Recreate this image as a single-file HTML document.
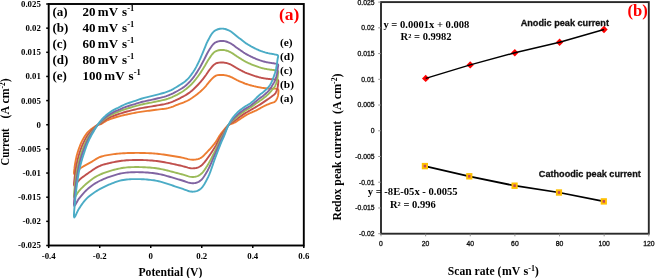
<!DOCTYPE html>
<html><head><meta charset="utf-8"><style>
html,body{margin:0;padding:0;background:#fff;}
body{width:655px;height:278px;overflow:hidden;font-family:"Liberation Serif", serif;}
svg{display:block;will-change:transform;}
</style></head><body>
<svg width="655" height="278" viewBox="0 0 655 278">
<rect width="655" height="278" fill="#fff"/>
<path d="M74.30,174.00 L74.01,173.38 L73.98,172.67 L74.02,171.95 L74.09,171.24 L74.18,170.54 L74.27,169.83 L74.37,169.12 L74.46,168.42 L74.53,167.71 L74.60,167.00 L74.69,166.29 L74.79,165.58 L74.90,164.88 L75.02,164.18 L75.14,163.47 L75.26,162.77 L75.39,162.07 L75.52,161.37 L75.65,160.67 L75.78,159.97 L75.92,159.27 L76.06,158.57 L76.21,157.87 L76.36,157.17 L76.52,156.48 L76.69,155.79 L76.87,155.10 L77.06,154.41 L77.26,153.72 L77.46,153.04 L77.66,152.36 L77.87,151.68 L78.09,151.00 L78.31,150.32 L78.54,149.65 L78.78,148.97 L79.02,148.30 L79.26,147.63 L79.51,146.96 L79.77,146.30 L80.03,145.63 L80.29,144.97 L80.56,144.31 L80.83,143.65 L81.12,143.00 L81.41,142.35 L81.72,141.71 L82.03,141.07 L82.36,140.43 L82.71,139.81 L83.05,139.19 L83.40,138.56 L83.75,137.94 L84.11,137.33 L84.48,136.72 L84.85,136.11 L85.24,135.51 L85.64,134.92 L86.05,134.34 L86.48,133.77 L86.92,133.21 L87.39,132.67 L87.87,132.14 L88.36,131.63 L88.88,131.14 L89.41,130.66 L89.95,130.19 L90.50,129.74 L91.05,129.29 L91.61,128.85 L92.18,128.43 L92.76,128.00 L93.34,127.59 L93.93,127.19 L94.52,126.79 L95.12,126.41 L95.73,126.03 L96.34,125.67 L96.97,125.32 L97.60,125.00 L99.26,124.51 L100.94,124.08 L102.46,123.26 L103.92,122.31 L105.38,121.36 L106.89,120.51 L108.47,119.79 L110.09,119.15 L111.72,118.57 L113.37,118.01 L115.02,117.48 L116.69,116.98 L118.36,116.52 L120.04,116.08 L121.73,115.67 L123.42,115.29 L125.12,114.91 L126.81,114.52 L128.51,114.15 L130.21,113.78 L131.91,113.42 L133.61,113.07 L135.32,112.74 L137.03,112.43 L138.74,112.15 L140.46,111.88 L142.17,111.62 L143.89,111.37 L145.61,111.14 L147.34,110.91 L149.06,110.69 L150.78,110.47 L152.51,110.25 L154.23,110.03 L155.95,109.79 L157.67,109.57 L159.40,109.37 L161.13,109.17 L162.85,108.96 L164.57,108.73 L166.29,108.46 L167.99,108.12 L169.68,107.69 L171.33,107.17 L172.96,106.56 L174.57,105.91 L176.17,105.24 L177.78,104.59 L179.41,103.97 L181.04,103.37 L182.67,102.77 L184.29,102.15 L185.89,101.48 L187.47,100.74 L188.99,99.91 L190.48,99.02 L191.94,98.07 L193.37,97.08 L194.78,96.07 L196.16,95.02 L197.53,93.95 L198.88,92.85 L200.20,91.72 L201.48,90.55 L202.73,89.35 L203.95,88.11 L205.14,86.84 L206.28,85.53 L207.36,84.17 L208.43,82.80 L209.56,81.48 L210.74,80.21 L211.92,78.93 L213.13,77.69 L214.45,76.56 L215.95,75.68 L217.60,75.17 L219.33,74.96 L221.06,74.93 L222.80,75.00 L223.52,75.05 L224.24,75.12 L224.96,75.22 L225.68,75.34 L226.39,75.49 L227.09,75.65 L227.79,75.83 L228.49,76.04 L229.18,76.26 L229.86,76.49 L230.54,76.76 L231.20,77.05 L231.85,77.37 L232.50,77.70 L233.14,78.04 L233.77,78.38 L234.41,78.73 L235.04,79.08 L235.68,79.43 L236.32,79.77 L236.96,80.10 L237.61,80.41 L238.27,80.72 L238.93,81.01 L239.60,81.31 L240.26,81.60 L240.92,81.89 L241.59,82.17 L242.26,82.45 L242.93,82.73 L243.60,83.00 L244.27,83.26 L244.95,83.52 L245.63,83.77 L246.32,84.01 L247.00,84.24 L247.69,84.46 L248.38,84.68 L249.08,84.88 L249.77,85.08 L250.47,85.27 L251.17,85.46 L251.87,85.64 L252.58,85.82 L253.28,85.99 L253.98,86.17 L254.69,86.33 L255.39,86.50 L256.10,86.66 L256.81,86.82 L257.51,86.97 L258.22,87.12 L258.93,87.26 L259.65,87.40 L260.36,87.53 L261.07,87.65 L261.79,87.77 L262.50,87.87 L263.22,87.97 L263.94,88.06 L264.66,88.14 L265.38,88.21 L266.10,88.28 L266.83,88.34 L267.55,88.39 L268.27,88.45 L268.99,88.50 L269.72,88.54 L270.44,88.59 L271.16,88.63 L271.89,88.64 L272.61,88.64 L273.34,88.64 L274.06,88.63 L274.78,88.63 L275.51,88.66 L276.23,88.72 L276.94,88.86 L277.63,89.06 L278.20,89.50 L278.44,90.27 L278.45,91.09 L278.41,91.91 L278.36,92.72 L278.29,93.54 L278.19,94.35 L278.06,95.15 L277.89,95.96 L277.68,96.75 L277.42,97.52 L277.12,98.28 L276.78,99.03 L276.41,99.75 L275.98,100.45 L275.49,101.10 L274.91,101.67 L274.21,102.10 L273.45,102.39 L272.67,102.62 L271.88,102.86 L271.12,103.15 L270.36,103.44 L269.59,103.73 L268.83,104.03 L268.07,104.32 L267.31,104.62 L266.55,104.94 L265.80,105.27 L265.06,105.61 L264.33,105.98 L263.61,106.35 L262.89,106.74 L262.17,107.14 L261.46,107.54 L260.75,107.94 L260.04,108.35 L259.32,108.75 L258.61,109.14 L257.89,109.53 L257.17,109.91 L256.44,110.28 L255.70,110.63 L254.95,110.97 L254.21,111.30 L253.46,111.63 L252.70,111.95 L251.95,112.27 L251.20,112.59 L250.45,112.92 L249.71,113.26 L248.97,113.61 L248.24,113.98 L247.52,114.36 L246.80,114.76 L246.10,115.17 L245.40,115.59 L244.70,116.02 L244.01,116.46 L243.32,116.90 L242.63,117.34 L241.95,117.79 L241.26,118.23 L240.58,118.68 L239.90,119.14 L239.23,119.61 L238.57,120.09 L237.91,120.57 L237.24,121.04 L236.56,121.49 L235.86,121.92 L235.15,122.33 L234.42,122.68 L233.66,122.99 L232.89,123.27 L232.12,123.54 L231.35,123.80 L230.58,124.08 L229.82,124.40 L229.09,124.77 L228.40,125.20 L227.89,125.59 L227.40,126.01 L226.93,126.45 L226.48,126.91 L226.05,127.39 L225.63,127.88 L225.22,128.38 L224.82,128.88 L224.41,129.38 L224.01,129.88 L223.60,130.38 L223.19,130.87 L222.78,131.37 L222.37,131.87 L221.97,132.37 L221.57,132.88 L221.18,133.39 L220.79,133.90 L220.42,134.43 L220.04,134.95 L219.68,135.48 L219.32,136.02 L218.99,136.57 L218.66,137.12 L218.33,137.68 L218.01,138.24 L217.69,138.79 L217.37,139.35 L217.05,139.91 L216.72,140.46 L216.38,141.01 L216.03,141.55 L215.67,142.08 L215.29,142.61 L214.91,143.12 L214.52,143.64 L214.12,144.14 L213.72,144.65 L213.32,145.15 L212.91,145.65 L212.49,146.14 L212.07,146.63 L211.65,147.12 L211.23,147.60 L210.80,148.08 L210.37,148.56 L209.94,149.04 L209.50,149.51 L209.06,149.98 L208.62,150.45 L208.17,150.91 L207.72,151.37 L207.28,151.84 L206.83,152.31 L206.39,152.78 L205.95,153.25 L205.51,153.72 L205.07,154.18 L204.62,154.65 L204.17,155.11 L203.71,155.56 L203.24,156.00 L202.76,156.43 L202.27,156.84 L201.76,157.23 L201.23,157.60 L200.68,157.94 L200.11,158.24 L199.53,158.51 L198.93,158.75 L198.32,158.97 L197.71,159.15 L197.08,159.30 L196.45,159.42 L195.81,159.52 L195.17,159.59 L194.53,159.64 L193.89,159.68 L193.24,159.69 L192.60,159.70 L191.05,159.61 L189.51,159.38 L187.98,159.06 L186.47,158.69 L184.96,158.30 L183.45,157.93 L181.93,157.58 L180.40,157.27 L178.86,157.01 L177.33,156.74 L175.79,156.48 L174.26,156.22 L172.72,155.96 L171.18,155.71 L169.64,155.47 L168.11,155.23 L166.56,155.00 L165.02,154.77 L163.48,154.56 L161.94,154.35 L160.39,154.16 L158.84,153.98 L157.29,153.81 L155.74,153.67 L154.19,153.54 L152.64,153.42 L151.08,153.32 L149.53,153.23 L147.97,153.16 L146.41,153.09 L144.86,153.04 L143.30,153.00 L141.74,152.96 L140.18,152.94 L138.63,152.92 L137.07,152.91 L135.51,152.92 L133.95,152.93 L132.39,152.95 L130.84,152.97 L129.28,153.01 L127.72,153.06 L126.16,153.12 L124.61,153.19 L123.05,153.27 L121.50,153.37 L119.94,153.49 L118.39,153.63 L116.84,153.78 L115.29,153.96 L113.75,154.17 L112.21,154.38 L110.66,154.60 L109.12,154.83 L107.59,155.08 L106.05,155.36 L104.53,155.68 L103.01,156.05 L101.52,156.48 L100.04,156.98 L98.61,157.59 L97.23,158.31 L95.88,159.10 L94.57,159.94 L93.27,160.79 L91.95,161.63 L90.61,162.42 L89.25,163.18 L87.89,163.93 L86.51,164.67 L85.15,165.41 L83.79,166.18 L82.45,166.97 L81.13,167.80 L79.86,168.71 L78.71,169.75 L77.65,170.89 L76.62,172.06 L75.58,173.22 Z" fill="none" stroke="#ED7D31" stroke-width="1.9" stroke-linejoin="round"/>
<path d="M74.30,185.75 L74.00,184.99 L73.98,184.14 L74.01,183.29 L74.08,182.45 L74.17,181.61 L74.26,180.76 L74.36,179.92 L74.45,179.08 L74.54,178.24 L74.62,177.40 L74.72,176.55 L74.83,175.71 L74.94,174.87 L75.05,174.04 L75.16,173.20 L75.28,172.36 L75.41,171.52 L75.53,170.68 L75.66,169.85 L75.79,169.01 L75.93,168.18 L76.07,167.34 L76.22,166.51 L76.38,165.68 L76.54,164.85 L76.70,164.02 L76.88,163.19 L77.06,162.36 L77.25,161.54 L77.44,160.71 L77.63,159.89 L77.83,159.07 L78.04,158.25 L78.25,157.44 L78.47,156.62 L78.69,155.81 L78.93,154.99 L79.17,154.19 L79.41,153.38 L79.67,152.57 L79.93,151.77 L80.20,150.97 L80.47,150.17 L80.75,149.37 L81.04,148.58 L81.34,147.79 L81.65,147.00 L81.97,146.22 L82.31,145.45 L82.65,144.68 L83.00,143.91 L83.35,143.15 L83.71,142.38 L84.07,141.62 L84.44,140.86 L84.82,140.11 L85.21,139.37 L85.61,138.63 L86.02,137.89 L86.44,137.17 L86.88,136.46 L87.34,135.76 L87.82,135.07 L88.31,134.40 L88.82,133.74 L89.34,133.09 L89.88,132.46 L90.42,131.84 L90.98,131.22 L91.55,130.61 L92.12,130.02 L92.70,129.42 L93.29,128.84 L93.89,128.26 L94.49,127.69 L95.09,127.13 L95.71,126.58 L96.33,126.04 L96.96,125.51 L97.60,125.00 L99.12,124.18 L100.68,123.41 L102.16,122.38 L103.61,121.28 L105.07,120.19 L106.58,119.18 L108.17,118.29 L109.79,117.48 L111.44,116.73 L113.11,116.01 L114.81,115.35 L116.54,114.76 L118.27,114.18 L120.00,113.61 L121.73,113.05 L123.47,112.51 L125.22,112.01 L126.99,111.53 L128.76,111.07 L130.53,110.62 L132.30,110.19 L134.08,109.75 L135.85,109.33 L137.63,108.91 L139.42,108.53 L141.21,108.17 L143.01,107.83 L144.81,107.52 L146.61,107.22 L148.42,106.92 L150.22,106.63 L152.02,106.33 L153.83,106.03 L155.63,105.72 L157.43,105.40 L159.23,105.09 L161.02,104.78 L162.82,104.45 L164.60,104.09 L166.36,103.68 L168.11,103.22 L169.84,102.69 L171.55,102.09 L173.24,101.41 L174.91,100.68 L176.56,99.90 L178.20,99.09 L179.82,98.28 L181.42,97.45 L183.01,96.61 L184.56,95.75 L186.09,94.85 L187.59,93.90 L189.06,92.90 L190.48,91.82 L191.85,90.68 L193.18,89.50 L194.48,88.28 L195.76,87.03 L197.01,85.76 L198.24,84.47 L199.45,83.15 L200.63,81.81 L201.79,80.44 L202.92,79.04 L204.03,77.61 L205.10,76.17 L206.14,74.68 L207.14,73.17 L208.17,71.67 L209.25,70.20 L210.38,68.78 L211.51,67.35 L212.69,65.97 L213.99,64.69 L215.48,63.66 L217.16,62.98 L218.94,62.62 L220.76,62.47 L222.58,62.47 L223.32,62.51 L224.06,62.59 L224.80,62.70 L225.53,62.84 L226.25,63.00 L226.97,63.19 L227.68,63.40 L228.38,63.63 L229.08,63.88 L229.77,64.15 L230.45,64.44 L231.12,64.77 L231.77,65.11 L232.42,65.48 L233.05,65.85 L233.69,66.24 L234.31,66.63 L234.94,67.02 L235.57,67.41 L236.20,67.80 L236.83,68.17 L237.48,68.54 L238.12,68.89 L238.77,69.24 L239.43,69.59 L240.08,69.93 L240.73,70.27 L241.38,70.61 L242.04,70.95 L242.69,71.29 L243.35,71.62 L244.01,71.94 L244.68,72.26 L245.35,72.56 L246.02,72.86 L246.69,73.16 L247.38,73.44 L248.06,73.71 L248.75,73.97 L249.44,74.23 L250.13,74.48 L250.83,74.72 L251.53,74.96 L252.22,75.19 L252.92,75.42 L253.63,75.65 L254.33,75.87 L255.03,76.09 L255.74,76.30 L256.45,76.51 L257.16,76.72 L257.87,76.92 L258.58,77.11 L259.29,77.30 L260.01,77.48 L260.73,77.65 L261.45,77.81 L262.17,77.96 L262.90,78.10 L263.62,78.23 L264.35,78.36 L265.08,78.47 L265.81,78.58 L266.55,78.69 L267.28,78.78 L268.01,78.88 L268.75,78.96 L269.48,79.04 L270.22,79.12 L270.96,79.18 L271.70,79.23 L272.44,79.26 L273.18,79.30 L273.92,79.33 L274.65,79.38 L275.39,79.44 L276.13,79.52 L276.86,79.66 L277.57,79.87 L278.15,80.32 L278.36,81.18 L278.30,82.07 L278.20,82.96 L278.13,83.85 L278.04,84.75 L277.92,85.64 L277.79,86.52 L277.62,87.41 L277.42,88.28 L277.17,89.14 L276.89,89.99 L276.59,90.83 L276.25,91.66 L275.87,92.46 L275.43,93.23 L274.92,93.94 L274.33,94.54 L273.68,95.04 L273.00,95.49 L272.33,95.95 L271.67,96.44 L271.01,96.94 L270.33,97.43 L269.66,97.92 L268.97,98.41 L268.28,98.90 L267.58,99.39 L266.88,99.89 L266.16,100.38 L265.43,100.88 L264.70,101.38 L263.97,101.88 L263.23,102.38 L262.49,102.88 L261.75,103.38 L261.00,103.87 L260.25,104.36 L259.48,104.83 L258.72,105.29 L257.95,105.76 L257.19,106.22 L256.43,106.68 L255.66,107.13 L254.90,107.58 L254.14,108.03 L253.37,108.47 L252.60,108.92 L251.84,109.36 L251.07,109.80 L250.29,110.25 L249.52,110.69 L248.74,111.14 L247.97,111.59 L247.19,112.03 L246.41,112.48 L245.64,112.94 L244.87,113.41 L244.11,113.90 L243.37,114.39 L242.62,114.89 L241.88,115.40 L241.14,115.90 L240.40,116.42 L239.68,116.95 L238.96,117.50 L238.26,118.05 L237.56,118.61 L236.86,119.17 L236.16,119.73 L235.46,120.27 L234.74,120.79 L234.02,121.29 L233.29,121.76 L232.56,122.21 L231.83,122.66 L231.11,123.11 L230.40,123.58 L229.71,124.08 L229.04,124.61 L228.40,125.20 L227.91,125.72 L227.45,126.27 L227.01,126.84 L226.59,127.43 L226.17,128.02 L225.77,128.63 L225.38,129.24 L224.99,129.85 L224.61,130.46 L224.22,131.08 L223.82,131.69 L223.42,132.29 L223.01,132.90 L222.61,133.50 L222.20,134.11 L221.80,134.72 L221.41,135.33 L221.02,135.95 L220.64,136.58 L220.27,137.21 L219.90,137.84 L219.54,138.48 L219.20,139.12 L218.86,139.77 L218.53,140.43 L218.20,141.08 L217.87,141.74 L217.54,142.39 L217.21,143.04 L216.87,143.70 L216.53,144.34 L216.18,144.99 L215.83,145.62 L215.46,146.25 L215.08,146.88 L214.71,147.50 L214.32,148.12 L213.94,148.73 L213.56,149.35 L213.17,149.96 L212.78,150.57 L212.39,151.18 L212.00,151.79 L211.60,152.39 L211.20,152.99 L210.80,153.59 L210.40,154.19 L209.99,154.78 L209.58,155.38 L209.17,155.97 L208.75,156.56 L208.33,157.14 L207.91,157.72 L207.48,158.31 L207.06,158.90 L206.63,159.48 L206.19,160.07 L205.75,160.64 L205.31,161.22 L204.85,161.79 L204.40,162.35 L203.93,162.91 L203.45,163.45 L202.96,163.98 L202.45,164.50 L201.93,164.99 L201.38,165.46 L200.81,165.90 L200.22,166.30 L199.61,166.67 L198.97,167.01 L198.31,167.31 L197.64,167.57 L196.94,167.78 L196.24,167.96 L195.52,168.11 L194.80,168.21 L194.07,168.28 L193.33,168.32 L192.60,168.34 L191.01,168.24 L189.44,167.97 L187.89,167.61 L186.35,167.18 L184.82,166.74 L183.29,166.31 L181.75,165.90 L180.20,165.54 L178.64,165.21 L177.09,164.87 L175.53,164.53 L173.98,164.19 L172.43,163.86 L170.87,163.52 L169.32,163.19 L167.76,162.87 L166.20,162.57 L164.64,162.27 L163.07,161.98 L161.50,161.72 L159.93,161.47 L158.35,161.24 L156.77,161.04 L155.19,160.86 L153.60,160.70 L152.01,160.56 L150.42,160.44 L148.83,160.34 L147.24,160.25 L145.65,160.17 L144.05,160.11 L142.46,160.06 L140.87,160.02 L139.27,160.00 L137.68,159.99 L136.08,159.99 L134.49,160.01 L132.89,160.04 L131.30,160.08 L129.71,160.14 L128.12,160.22 L126.53,160.32 L124.94,160.45 L123.36,160.61 L121.79,160.79 L120.21,161.00 L118.65,161.24 L117.09,161.50 L115.53,161.79 L113.98,162.08 L112.42,162.40 L110.88,162.74 L109.34,163.09 L107.80,163.46 L106.27,163.84 L104.74,164.26 L103.23,164.71 L101.73,165.21 L100.24,165.76 L98.78,166.38 L97.35,167.07 L95.97,167.85 L94.62,168.70 L93.30,169.59 L92.00,170.51 L90.70,171.43 L89.40,172.33 L88.10,173.22 L86.81,174.12 L85.53,175.02 L84.26,175.94 L83.01,176.87 L81.78,177.83 L80.57,178.82 L79.41,179.87 L78.35,181.04 L77.39,182.29 L76.45,183.56 L75.50,184.82 Z" fill="none" stroke="#C0504D" stroke-width="1.9" stroke-linejoin="round"/>
<path d="M74.30,197.49 L73.99,196.59 L73.97,195.61 L74.01,194.63 L74.07,193.65 L74.16,192.68 L74.25,191.70 L74.35,190.72 L74.45,189.75 L74.55,188.77 L74.64,187.79 L74.75,186.82 L74.86,185.84 L74.97,184.87 L75.08,183.89 L75.19,182.92 L75.31,181.95 L75.43,180.97 L75.55,180.00 L75.68,179.03 L75.81,178.06 L75.95,177.09 L76.09,176.11 L76.24,175.15 L76.39,174.18 L76.55,173.21 L76.71,172.24 L76.88,171.28 L77.06,170.31 L77.24,169.35 L77.42,168.39 L77.60,167.43 L77.79,166.47 L77.99,165.51 L78.19,164.55 L78.40,163.60 L78.61,162.64 L78.84,161.69 L79.07,160.74 L79.32,159.79 L79.57,158.85 L79.83,157.90 L80.10,156.96 L80.38,156.02 L80.67,155.09 L80.97,154.15 L81.27,153.23 L81.59,152.30 L81.91,151.38 L82.25,150.46 L82.60,149.55 L82.95,148.64 L83.31,147.73 L83.67,146.82 L84.04,145.91 L84.41,145.01 L84.79,144.11 L85.18,143.22 L85.57,142.33 L85.98,141.45 L86.41,140.57 L86.84,139.70 L87.30,138.85 L87.76,138.00 L88.25,137.16 L88.75,136.34 L89.27,135.53 L89.81,134.73 L90.35,133.93 L90.91,133.15 L91.48,132.37 L92.06,131.61 L92.65,130.84 L93.24,130.09 L93.85,129.34 L94.45,128.60 L95.07,127.86 L95.69,127.13 L96.32,126.41 L96.95,125.70 L97.60,125.00 L98.99,123.84 L100.43,122.74 L101.86,121.50 L103.29,120.24 L104.76,119.01 L106.28,117.85 L107.86,116.79 L109.49,115.80 L111.16,114.88 L112.86,114.02 L114.61,113.23 L116.39,112.53 L118.19,111.85 L119.96,111.14 L121.73,110.42 L123.51,109.73 L125.32,109.11 L127.16,108.54 L129.00,108.00 L130.85,107.47 L132.70,106.95 L134.55,106.43 L136.39,105.91 L138.24,105.39 L140.09,104.91 L141.96,104.45 L143.84,104.04 L145.72,103.66 L147.61,103.30 L149.49,102.94 L151.38,102.57 L153.26,102.19 L155.14,101.80 L157.02,101.41 L158.90,101.01 L160.78,100.61 L162.65,100.19 L164.51,99.73 L166.34,99.22 L168.16,98.64 L169.94,97.99 L171.70,97.27 L173.43,96.49 L175.15,95.65 L176.86,94.79 L178.55,93.89 L180.22,92.95 L181.85,91.97 L183.44,90.94 L184.97,89.85 L186.46,88.73 L187.89,87.55 L189.29,86.33 L190.65,85.06 L191.96,83.73 L193.21,82.35 L194.42,80.93 L195.59,79.47 L196.73,78.00 L197.86,76.50 L198.95,74.98 L200.02,73.45 L201.07,71.89 L202.09,70.32 L203.11,68.73 L204.10,67.12 L205.07,65.49 L206.00,63.84 L206.93,62.18 L207.90,60.53 L208.94,58.93 L210.02,57.35 L211.10,55.78 L212.25,54.25 L213.53,52.83 L215.01,51.63 L216.72,50.80 L218.56,50.28 L220.45,50.01 L222.37,49.94 L223.13,49.98 L223.88,50.06 L224.63,50.18 L225.38,50.33 L226.11,50.51 L226.84,50.73 L227.56,50.97 L228.28,51.23 L228.98,51.50 L229.68,51.80 L230.37,52.12 L231.04,52.48 L231.69,52.86 L232.34,53.26 L232.97,53.67 L233.60,54.10 L234.22,54.53 L234.84,54.96 L235.46,55.39 L236.08,55.82 L236.71,56.25 L237.34,56.67 L237.97,57.07 L238.61,57.47 L239.26,57.86 L239.90,58.26 L240.54,58.66 L241.18,59.06 L241.82,59.45 L242.46,59.84 L243.11,60.23 L243.75,60.62 L244.40,60.99 L245.06,61.36 L245.72,61.72 L246.39,62.07 L247.06,62.41 L247.74,62.74 L248.42,63.06 L249.10,63.37 L249.79,63.68 L250.48,63.98 L251.18,64.27 L251.87,64.56 L252.57,64.85 L253.27,65.13 L253.97,65.41 L254.67,65.68 L255.38,65.95 L256.09,66.21 L256.80,66.47 L257.51,66.72 L258.22,66.96 L258.94,67.20 L259.66,67.42 L260.38,67.64 L261.11,67.85 L261.84,68.05 L262.57,68.23 L263.31,68.41 L264.04,68.58 L264.78,68.74 L265.52,68.89 L266.27,69.03 L267.01,69.17 L267.76,69.31 L268.50,69.43 L269.25,69.54 L270.00,69.64 L270.76,69.74 L271.51,69.81 L272.27,69.88 L273.02,69.95 L273.77,70.03 L274.52,70.12 L275.27,70.22 L276.02,70.32 L276.77,70.47 L277.50,70.68 L278.09,71.14 L278.28,72.08 L278.15,73.04 L277.99,74.01 L277.89,74.98 L277.78,75.95 L277.66,76.93 L277.52,77.90 L277.35,78.86 L277.16,79.82 L276.92,80.77 L276.67,81.71 L276.39,82.64 L276.09,83.57 L275.75,84.47 L275.37,85.36 L274.94,86.20 L274.44,86.97 L273.90,87.68 L273.34,88.35 L272.78,89.03 L272.22,89.73 L271.65,90.43 L271.08,91.13 L270.48,91.81 L269.88,92.50 L269.26,93.17 L268.62,93.85 L267.95,94.51 L267.25,95.15 L266.54,95.79 L265.80,96.41 L265.05,97.02 L264.29,97.62 L263.52,98.22 L262.75,98.82 L261.97,99.40 L261.17,99.96 L260.36,100.51 L259.55,101.05 L258.74,101.60 L257.94,102.16 L257.16,102.72 L256.37,103.29 L255.60,103.86 L254.82,104.43 L254.04,105.00 L253.26,105.57 L252.47,106.13 L251.68,106.69 L250.88,107.24 L250.07,107.78 L249.25,108.30 L248.41,108.81 L247.57,109.30 L246.72,109.79 L245.88,110.29 L245.04,110.80 L244.22,111.33 L243.41,111.88 L242.60,112.44 L241.80,113.00 L241.01,113.58 L240.22,114.16 L239.45,114.76 L238.70,115.38 L237.95,116.01 L237.22,116.66 L236.49,117.31 L235.77,117.96 L235.05,118.61 L234.34,119.26 L233.62,119.90 L232.92,120.52 L232.22,121.15 L231.54,121.78 L230.87,122.42 L230.22,123.07 L229.59,123.75 L228.98,124.46 L228.40,125.20 L227.94,125.86 L227.51,126.54 L227.09,127.23 L226.69,127.94 L226.30,128.65 L225.92,129.37 L225.54,130.09 L225.17,130.82 L224.80,131.55 L224.43,132.27 L224.04,133.00 L223.65,133.71 L223.25,134.43 L222.85,135.14 L222.44,135.85 L222.04,136.56 L221.64,137.28 L221.24,138.00 L220.86,138.73 L220.49,139.46 L220.12,140.20 L219.76,140.94 L219.41,141.68 L219.07,142.43 L218.72,143.18 L218.39,143.93 L218.05,144.68 L217.71,145.43 L217.37,146.18 L217.03,146.93 L216.69,147.68 L216.34,148.42 L215.99,149.16 L215.63,149.90 L215.26,150.63 L214.89,151.36 L214.52,152.09 L214.16,152.82 L213.80,153.55 L213.43,154.28 L213.07,155.00 L212.71,155.73 L212.34,156.46 L211.97,157.18 L211.61,157.90 L211.24,158.62 L210.86,159.34 L210.49,160.06 L210.11,160.78 L209.72,161.49 L209.33,162.20 L208.94,162.91 L208.54,163.61 L208.13,164.32 L207.72,165.02 L207.30,165.72 L206.87,166.41 L206.43,167.10 L205.99,167.79 L205.54,168.47 L205.08,169.15 L204.62,169.82 L204.14,170.48 L203.65,171.13 L203.15,171.77 L202.63,172.39 L202.08,172.98 L201.51,173.55 L200.91,174.09 L200.28,174.59 L199.62,175.06 L198.92,175.47 L198.19,175.84 L197.44,176.15 L196.67,176.41 L195.87,176.62 L195.06,176.78 L194.25,176.89 L193.43,176.95 L192.60,176.98 L190.97,176.87 L189.37,176.57 L187.80,176.16 L186.24,175.68 L184.69,175.18 L183.14,174.68 L181.57,174.22 L180.00,173.81 L178.42,173.41 L176.85,173.00 L175.27,172.59 L173.70,172.17 L172.13,171.75 L170.56,171.33 L168.99,170.92 L167.41,170.52 L165.83,170.14 L164.25,169.76 L162.66,169.41 L161.07,169.08 L159.47,168.78 L157.86,168.50 L156.25,168.26 L154.63,168.05 L153.01,167.87 L151.39,167.71 L149.77,167.56 L148.14,167.44 L146.51,167.34 L144.88,167.25 L143.25,167.18 L141.62,167.13 L139.99,167.09 L138.36,167.06 L136.73,167.06 L135.10,167.07 L133.47,167.09 L131.84,167.14 L130.21,167.21 L128.58,167.30 L126.96,167.42 L125.33,167.58 L123.72,167.78 L122.11,168.03 L120.52,168.31 L118.93,168.64 L117.36,169.00 L115.79,169.38 L114.22,169.79 L112.66,170.20 L111.10,170.64 L109.55,171.10 L108.01,171.58 L106.47,172.08 L104.95,172.61 L103.43,173.16 L101.93,173.75 L100.44,174.37 L98.97,175.05 L97.52,175.77 L96.10,176.55 L94.71,177.40 L93.35,178.30 L92.02,179.24 L90.72,180.22 L89.44,181.22 L88.18,182.24 L86.94,183.26 L85.73,184.31 L84.54,185.38 L83.37,186.46 L82.23,187.57 L81.11,188.69 L80.01,189.85 L78.95,191.04 L78.00,192.33 L77.12,193.69 L76.28,195.07 L75.42,196.43 Z" fill="none" stroke="#9BBB59" stroke-width="1.9" stroke-linejoin="round"/>
<path d="M74.30,205.97 L73.99,204.98 L73.96,203.90 L74.00,202.82 L74.07,201.75 L74.15,200.67 L74.24,199.60 L74.35,198.53 L74.45,197.45 L74.55,196.38 L74.66,195.31 L74.77,194.23 L74.88,193.16 L75.00,192.09 L75.11,191.02 L75.21,189.94 L75.33,188.87 L75.44,187.80 L75.56,186.73 L75.69,185.66 L75.82,184.59 L75.96,183.52 L76.10,182.45 L76.25,181.38 L76.40,180.32 L76.56,179.25 L76.72,178.19 L76.89,177.12 L77.06,176.06 L77.23,174.99 L77.40,173.93 L77.58,172.87 L77.76,171.81 L77.95,170.75 L78.14,169.69 L78.34,168.63 L78.55,167.58 L78.77,166.52 L79.00,165.47 L79.24,164.42 L79.50,163.38 L79.76,162.33 L80.04,161.29 L80.32,160.25 L80.61,159.22 L80.91,158.18 L81.22,157.15 L81.54,156.13 L81.87,155.10 L82.21,154.08 L82.56,153.06 L82.91,152.05 L83.27,151.04 L83.64,150.03 L84.01,149.02 L84.38,148.01 L84.77,147.00 L85.15,146.00 L85.55,145.01 L85.96,144.01 L86.38,143.03 L86.81,142.05 L87.26,141.08 L87.73,140.12 L88.21,139.16 L88.71,138.22 L89.22,137.29 L89.75,136.36 L90.30,135.45 L90.86,134.54 L91.44,133.65 L92.02,132.75 L92.61,131.87 L93.21,130.99 L93.82,130.12 L94.43,129.25 L95.05,128.38 L95.67,127.53 L96.31,126.68 L96.95,125.83 L97.60,125.00 L98.89,123.60 L100.24,122.25 L101.64,120.86 L103.07,119.49 L104.54,118.16 L106.06,116.89 L107.64,115.71 L109.27,114.60 L110.96,113.55 L112.68,112.58 L114.46,111.70 L116.28,110.92 L118.12,110.16 L119.94,109.36 L121.73,108.52 L123.55,107.73 L125.40,107.02 L127.28,106.38 L129.18,105.77 L131.08,105.19 L132.98,104.62 L134.88,104.04 L136.78,103.44 L138.68,102.85 L140.58,102.29 L142.50,101.77 L144.44,101.31 L146.38,100.88 L148.33,100.46 L150.27,100.06 L152.22,99.64 L154.16,99.20 L156.09,98.75 L158.03,98.30 L159.97,97.84 L161.90,97.37 L163.82,96.87 L165.73,96.32 L167.61,95.70 L169.45,94.99 L171.26,94.21 L173.04,93.35 L174.79,92.44 L176.53,91.50 L178.27,90.54 L179.99,89.54 L181.68,88.51 L183.32,87.41 L184.90,86.23 L186.40,84.97 L187.83,83.65 L189.20,82.28 L190.52,80.86 L191.80,79.40 L193.03,77.89 L194.20,76.33 L195.31,74.74 L196.39,73.11 L197.44,71.47 L198.47,69.82 L199.47,68.14 L200.44,66.44 L201.38,64.73 L202.31,63.01 L203.24,61.28 L204.16,59.54 L205.04,57.78 L205.90,56.01 L206.78,54.24 L207.71,52.49 L208.72,50.78 L209.76,49.10 L210.81,47.42 L211.93,45.79 L213.19,44.26 L214.67,42.95 L216.40,41.99 L218.28,41.36 L220.23,41.01 L222.21,40.90 L222.98,40.93 L223.75,41.01 L224.51,41.13 L225.27,41.30 L226.02,41.50 L226.75,41.73 L227.48,41.98 L228.20,42.27 L228.91,42.57 L229.61,42.88 L230.31,43.23 L230.98,43.60 L231.64,44.01 L232.28,44.43 L232.91,44.87 L233.54,45.32 L234.15,45.78 L234.77,46.25 L235.38,46.71 L236.00,47.18 L236.61,47.64 L237.23,48.09 L237.86,48.53 L238.50,48.96 L239.14,49.40 L239.77,49.83 L240.40,50.27 L241.03,50.71 L241.66,51.14 L242.29,51.58 L242.93,52.01 L243.56,52.44 L244.21,52.86 L244.85,53.27 L245.51,53.67 L246.17,54.06 L246.83,54.44 L247.50,54.81 L248.18,55.17 L248.86,55.53 L249.55,55.88 L250.23,56.22 L250.92,56.56 L251.62,56.89 L252.31,57.21 L253.01,57.53 L253.71,57.85 L254.41,58.16 L255.12,58.47 L255.83,58.77 L256.54,59.06 L257.25,59.35 L257.97,59.63 L258.68,59.90 L259.41,60.16 L260.13,60.42 L260.87,60.66 L261.60,60.89 L262.34,61.11 L263.08,61.32 L263.82,61.52 L264.57,61.71 L265.32,61.89 L266.07,62.06 L266.82,62.23 L267.57,62.40 L268.33,62.55 L269.09,62.68 L269.85,62.80 L270.61,62.91 L271.38,63.01 L272.14,63.11 L272.91,63.21 L273.67,63.31 L274.43,63.44 L275.19,63.57 L275.95,63.68 L276.71,63.82 L277.45,64.05 L278.05,64.51 L278.22,65.51 L278.04,66.53 L277.84,67.54 L277.72,68.57 L277.60,69.61 L277.47,70.64 L277.33,71.66 L277.16,72.69 L276.97,73.71 L276.75,74.72 L276.50,75.72 L276.25,76.73 L275.97,77.72 L275.67,78.70 L275.33,79.67 L274.95,80.61 L274.52,81.51 L274.06,82.37 L273.59,83.20 L273.11,84.04 L272.62,84.89 L272.12,85.73 L271.61,86.57 L271.08,87.40 L270.53,88.23 L269.96,89.04 L269.36,89.84 L268.72,90.62 L268.04,91.38 L267.33,92.11 L266.59,92.82 L265.83,93.51 L265.05,94.19 L264.26,94.86 L263.47,95.52 L262.67,96.17 L261.84,96.79 L260.99,97.39 L260.14,97.99 L259.31,98.60 L258.49,99.22 L257.68,99.87 L256.89,100.52 L256.10,101.18 L255.31,101.84 L254.52,102.49 L253.73,103.15 L252.93,103.79 L252.13,104.43 L251.31,105.06 L250.47,105.67 L249.62,106.25 L248.74,106.80 L247.85,107.33 L246.95,107.85 L246.05,108.37 L245.16,108.91 L244.30,109.48 L243.44,110.07 L242.59,110.67 L241.75,111.28 L240.92,111.89 L240.10,112.53 L239.29,113.18 L238.50,113.85 L237.73,114.54 L236.97,115.25 L236.22,115.96 L235.49,116.69 L234.76,117.42 L234.04,118.15 L233.34,118.89 L232.65,119.63 L231.98,120.38 L231.33,121.14 L230.70,121.92 L230.09,122.71 L229.51,123.52 L228.94,124.35 L228.40,125.20 L227.96,125.96 L227.54,126.73 L227.15,127.51 L226.76,128.31 L226.39,129.11 L226.02,129.91 L225.66,130.72 L225.30,131.52 L224.94,132.33 L224.58,133.14 L224.20,133.94 L223.82,134.74 L223.42,135.53 L223.02,136.32 L222.61,137.11 L222.20,137.90 L221.80,138.69 L221.41,139.48 L221.02,140.28 L220.65,141.09 L220.28,141.90 L219.92,142.71 L219.56,143.53 L219.21,144.34 L218.87,145.16 L218.52,145.98 L218.18,146.80 L217.84,147.62 L217.49,148.45 L217.15,149.27 L216.80,150.08 L216.45,150.90 L216.10,151.72 L215.75,152.53 L215.39,153.34 L215.03,154.15 L214.67,154.96 L214.32,155.77 L213.97,156.58 L213.62,157.39 L213.28,158.21 L212.93,159.02 L212.59,159.83 L212.24,160.64 L211.90,161.45 L211.55,162.26 L211.20,163.06 L210.84,163.87 L210.48,164.67 L210.12,165.48 L209.75,166.27 L209.37,167.07 L208.99,167.86 L208.60,168.65 L208.20,169.44 L207.79,170.22 L207.37,171.00 L206.92,171.77 L206.48,172.53 L206.03,173.30 L205.58,174.06 L205.11,174.81 L204.64,175.56 L204.16,176.29 L203.65,177.02 L203.13,177.73 L202.59,178.42 L202.02,179.08 L201.41,179.72 L200.77,180.32 L200.09,180.87 L199.36,181.37 L198.60,181.81 L197.80,182.19 L196.97,182.51 L196.12,182.77 L195.26,182.97 L194.38,183.10 L193.49,183.19 L192.60,183.22 L190.95,183.10 L189.32,182.78 L187.73,182.33 L186.16,181.81 L184.59,181.27 L183.02,180.74 L181.45,180.23 L179.85,179.78 L178.26,179.34 L176.67,178.88 L175.09,178.40 L173.50,177.92 L171.92,177.44 L170.34,176.97 L168.75,176.50 L167.16,176.05 L165.57,175.60 L163.97,175.18 L162.37,174.78 L160.75,174.40 L159.14,174.06 L157.51,173.74 L155.87,173.47 L154.23,173.24 L152.59,173.04 L150.94,172.86 L149.29,172.71 L147.64,172.57 L145.98,172.46 L144.33,172.36 L142.67,172.29 L141.02,172.23 L139.36,172.19 L137.70,172.16 L136.04,172.16 L134.39,172.18 L132.73,172.21 L131.07,172.28 L129.42,172.36 L127.77,172.48 L126.12,172.63 L124.47,172.83 L122.84,173.08 L121.21,173.38 L119.60,173.74 L118.01,174.15 L116.42,174.60 L114.84,175.07 L113.27,175.56 L111.70,176.06 L110.14,176.59 L108.59,177.14 L107.05,177.71 L105.52,178.31 L104.00,178.93 L102.49,179.59 L100.99,180.27 L99.51,180.99 L98.05,181.75 L96.61,182.55 L95.19,183.40 L93.80,184.29 L92.43,185.23 L91.10,186.22 L89.80,187.24 L88.53,188.30 L87.30,189.39 L86.10,190.52 L84.95,191.67 L83.83,192.86 L82.73,194.06 L81.67,195.29 L80.62,196.54 L79.60,197.81 L78.62,199.11 L77.74,200.49 L76.94,201.92 L76.16,203.37 L75.36,204.81 Z" fill="none" stroke="#8064A2" stroke-width="1.9" stroke-linejoin="round"/>
<path d="M74.30,217.50 L73.98,216.37 L73.95,215.16 L73.99,213.95 L74.05,212.75 L74.14,211.54 L74.23,210.33 L74.34,209.13 L74.45,207.92 L74.56,206.72 L74.68,205.51 L74.80,204.31 L74.91,203.10 L75.03,201.90 L75.14,200.69 L75.24,199.49 L75.35,198.28 L75.46,197.08 L75.58,195.87 L75.71,194.67 L75.84,193.47 L75.97,192.26 L76.12,191.06 L76.26,189.86 L76.41,188.66 L76.57,187.46 L76.73,186.26 L76.89,185.06 L77.05,183.86 L77.22,182.66 L77.38,181.46 L77.55,180.27 L77.72,179.07 L77.90,177.87 L78.08,176.67 L78.27,175.48 L78.47,174.29 L78.68,173.09 L78.91,171.91 L79.15,170.72 L79.40,169.54 L79.67,168.36 L79.94,167.18 L80.23,166.00 L80.53,164.83 L80.84,163.66 L81.15,162.49 L81.48,161.32 L81.81,160.16 L82.16,159.00 L82.51,157.84 L82.86,156.69 L83.23,155.53 L83.60,154.38 L83.97,153.23 L84.35,152.08 L84.73,150.93 L85.12,149.79 L85.52,148.64 L85.93,147.50 L86.34,146.37 L86.77,145.24 L87.22,144.11 L87.68,142.99 L88.15,141.88 L88.64,140.77 L89.15,139.68 L89.69,138.59 L90.23,137.51 L90.80,136.44 L91.37,135.37 L91.96,134.32 L92.56,133.26 L93.16,132.21 L93.77,131.17 L94.39,130.13 L95.02,129.10 L95.66,128.07 L96.30,127.04 L96.94,126.02 L97.60,125.00 L98.75,123.27 L99.99,121.59 L101.34,120.00 L102.76,118.48 L104.23,117.01 L105.76,115.59 L107.34,114.24 L108.98,112.95 L110.68,111.74 L112.43,110.62 L114.25,109.61 L116.14,108.73 L118.04,107.87 L119.90,106.93 L121.73,105.95 L123.59,105.00 L125.50,104.17 L127.45,103.44 L129.42,102.76 L131.39,102.10 L133.37,101.45 L135.34,100.78 L137.31,100.09 L139.27,99.40 L141.25,98.74 L143.24,98.13 L145.25,97.59 L147.28,97.09 L149.30,96.62 L151.33,96.14 L153.36,95.66 L155.38,95.14 L157.39,94.60 L159.40,94.07 L161.41,93.53 L163.42,92.97 L165.41,92.37 L167.38,91.69 L169.32,90.92 L171.21,90.04 L173.05,89.07 L174.85,88.03 L176.63,86.95 L178.40,85.85 L180.18,84.76 L181.94,83.64 L183.66,82.47 L185.32,81.21 L186.88,79.83 L188.33,78.34 L189.68,76.76 L190.96,75.11 L192.18,73.43 L193.36,71.71 L194.49,69.96 L195.54,68.16 L196.53,66.33 L197.48,64.47 L198.40,62.60 L199.31,60.73 L200.17,58.83 L201.00,56.92 L201.81,55.00 L202.61,53.08 L203.43,51.16 L204.23,49.24 L205.00,47.31 L205.77,45.37 L206.57,43.45 L207.45,41.56 L208.42,39.72 L209.40,37.88 L210.41,36.06 L211.50,34.28 L212.74,32.61 L214.22,31.15 L215.97,30.03 L217.90,29.25 L219.93,28.78 L222.00,28.60 L222.79,28.62 L223.58,28.70 L224.35,28.84 L225.12,29.02 L225.88,29.24 L226.63,29.50 L227.37,29.78 L228.10,30.09 L228.81,30.42 L229.52,30.76 L230.22,31.13 L230.90,31.54 L231.56,31.98 L232.20,32.44 L232.83,32.92 L233.45,33.41 L234.06,33.90 L234.67,34.41 L235.28,34.92 L235.88,35.43 L236.49,35.93 L237.10,36.43 L237.72,36.93 L238.34,37.41 L238.97,37.89 L239.59,38.38 L240.21,38.87 L240.83,39.36 L241.45,39.86 L242.06,40.35 L242.68,40.84 L243.31,41.32 L243.94,41.80 L244.57,42.27 L245.21,42.73 L245.86,43.18 L246.52,43.62 L247.19,44.05 L247.86,44.46 L248.53,44.87 L249.21,45.28 L249.90,45.68 L250.58,46.07 L251.27,46.46 L251.96,46.84 L252.66,47.21 L253.36,47.58 L254.06,47.94 L254.76,48.30 L255.47,48.65 L256.18,49.00 L256.90,49.34 L257.62,49.67 L258.34,49.99 L259.06,50.30 L259.80,50.60 L260.53,50.88 L261.27,51.16 L262.02,51.42 L262.77,51.68 L263.52,51.92 L264.27,52.15 L265.03,52.38 L265.79,52.59 L266.55,52.80 L267.32,53.00 L268.09,53.19 L268.86,53.36 L269.63,53.51 L270.41,53.64 L271.19,53.77 L271.97,53.90 L272.75,54.04 L273.53,54.18 L274.30,54.35 L275.07,54.52 L275.85,54.66 L276.63,54.80 L277.38,55.03 L278.00,55.50 L278.14,56.58 L277.89,57.67 L277.64,58.76 L277.49,59.87 L277.35,60.98 L277.21,62.09 L277.06,63.19 L276.90,64.30 L276.71,65.40 L276.50,66.50 L276.28,67.59 L276.06,68.69 L275.81,69.78 L275.55,70.86 L275.27,71.95 L274.97,73.02 L274.64,74.09 L274.28,75.15 L273.92,76.20 L273.55,77.26 L273.16,78.31 L272.76,79.35 L272.34,80.38 L271.89,81.41 L271.42,82.42 L270.92,83.42 L270.37,84.39 L269.78,85.34 L269.12,86.24 L268.41,87.11 L267.67,87.94 L266.89,88.74 L266.09,89.52 L265.27,90.28 L264.45,91.04 L263.61,91.78 L262.74,92.48 L261.85,93.15 L260.96,93.82 L260.08,94.52 L259.23,95.24 L258.40,95.99 L257.58,96.75 L256.78,97.53 L255.98,98.31 L255.17,99.08 L254.37,99.86 L253.55,100.62 L252.73,101.37 L251.88,102.11 L251.02,102.81 L250.11,103.47 L249.18,104.08 L248.22,104.66 L247.25,105.21 L246.28,105.77 L245.33,106.35 L244.40,106.97 L243.49,107.61 L242.58,108.27 L241.68,108.93 L240.79,109.61 L239.92,110.31 L239.07,111.03 L238.24,111.77 L237.43,112.54 L236.63,113.33 L235.86,114.13 L235.10,114.96 L234.36,115.79 L233.64,116.65 L232.95,117.53 L232.28,118.42 L231.65,119.34 L231.04,120.28 L230.46,121.24 L229.92,122.21 L229.40,123.20 L228.89,124.20 L228.40,125.20 L227.99,126.09 L227.60,126.99 L227.22,127.90 L226.86,128.81 L226.51,129.72 L226.16,130.64 L225.82,131.56 L225.48,132.48 L225.13,133.40 L224.78,134.31 L224.42,135.22 L224.04,136.13 L223.66,137.03 L223.25,137.92 L222.84,138.82 L222.43,139.71 L222.02,140.60 L221.63,141.49 L221.24,142.40 L220.87,143.30 L220.50,144.21 L220.13,145.12 L219.77,146.03 L219.42,146.95 L219.06,147.86 L218.71,148.78 L218.35,149.69 L218.00,150.61 L217.65,151.52 L217.30,152.44 L216.95,153.36 L216.61,154.27 L216.26,155.19 L215.91,156.11 L215.56,157.02 L215.21,157.94 L214.87,158.86 L214.53,159.78 L214.20,160.70 L213.88,161.63 L213.56,162.56 L213.24,163.48 L212.93,164.41 L212.61,165.34 L212.29,166.27 L211.97,167.20 L211.65,168.12 L211.33,169.05 L211.00,169.97 L210.66,170.89 L210.32,171.81 L209.97,172.73 L209.61,173.64 L209.24,174.55 L208.85,175.45 L208.45,176.35 L208.03,177.23 L207.59,178.11 L207.15,178.98 L206.70,179.85 L206.25,180.72 L205.79,181.59 L205.32,182.45 L204.84,183.31 L204.34,184.15 L203.82,184.98 L203.28,185.80 L202.70,186.59 L202.09,187.36 L201.43,188.09 L200.72,188.77 L199.96,189.38 L199.14,189.92 L198.29,190.40 L197.39,190.80 L196.47,191.13 L195.52,191.38 L194.55,191.55 L193.58,191.66 L192.60,191.70 L190.91,191.57 L189.26,191.22 L187.64,190.72 L186.04,190.15 L184.46,189.55 L182.87,188.96 L181.27,188.40 L179.66,187.90 L178.04,187.39 L176.43,186.86 L174.83,186.31 L173.23,185.75 L171.63,185.19 L170.03,184.63 L168.43,184.09 L166.82,183.55 L165.21,183.03 L163.59,182.54 L161.97,182.07 L160.33,181.63 L158.68,181.23 L157.03,180.87 L155.36,180.56 L153.69,180.30 L152.01,180.07 L150.33,179.87 L148.64,179.70 L146.96,179.55 L145.27,179.42 L143.58,179.31 L141.89,179.23 L140.19,179.16 L138.50,179.12 L136.81,179.10 L135.11,179.10 L133.42,179.12 L131.73,179.17 L130.04,179.25 L128.35,179.36 L126.66,179.51 L124.98,179.70 L123.30,179.96 L121.64,180.28 L119.99,180.67 L118.36,181.12 L116.75,181.64 L115.15,182.20 L113.56,182.80 L111.99,183.42 L110.41,184.03 L108.84,184.67 L107.29,185.35 L105.74,186.05 L104.22,186.77 L102.70,187.53 L101.20,188.32 L99.72,189.14 L98.25,189.99 L96.81,190.87 L95.37,191.77 L93.96,192.70 L92.56,193.66 L91.19,194.65 L89.85,195.69 L88.55,196.78 L87.30,197.92 L86.10,199.11 L84.97,200.37 L83.89,201.68 L82.86,203.02 L81.86,204.39 L80.90,205.79 L79.97,207.20 L79.05,208.62 L78.17,210.07 L77.39,211.57 L76.68,213.11 L76.00,214.66 L75.29,216.20 Z" fill="none" stroke="#4BACC6" stroke-width="1.9" stroke-linejoin="round"/>
<rect x="48.7" y="4.0" width="255.1" height="241.5" fill="none" stroke="#000" stroke-width="1.9"/>
<line x1="46.2" x2="48.7" y1="4.00" y2="4.00" stroke="#000" stroke-width="1.5"/>
<text x="40.8" y="6.90" text-anchor="end" font-family='"Liberation Serif", serif' font-weight="bold" font-size="8.8">0.025</text>
<line x1="46.2" x2="48.7" y1="28.15" y2="28.15" stroke="#000" stroke-width="1.5"/>
<text x="40.8" y="31.05" text-anchor="end" font-family='"Liberation Serif", serif' font-weight="bold" font-size="8.8">0.02</text>
<line x1="46.2" x2="48.7" y1="52.30" y2="52.30" stroke="#000" stroke-width="1.5"/>
<text x="40.8" y="55.20" text-anchor="end" font-family='"Liberation Serif", serif' font-weight="bold" font-size="8.8">0.015</text>
<line x1="46.2" x2="48.7" y1="76.45" y2="76.45" stroke="#000" stroke-width="1.5"/>
<text x="40.8" y="79.35" text-anchor="end" font-family='"Liberation Serif", serif' font-weight="bold" font-size="8.8">0.01</text>
<line x1="46.2" x2="48.7" y1="100.60" y2="100.60" stroke="#000" stroke-width="1.5"/>
<text x="40.8" y="103.50" text-anchor="end" font-family='"Liberation Serif", serif' font-weight="bold" font-size="8.8">0.005</text>
<line x1="46.2" x2="48.7" y1="124.75" y2="124.75" stroke="#000" stroke-width="1.5"/>
<text x="40.8" y="127.65" text-anchor="end" font-family='"Liberation Serif", serif' font-weight="bold" font-size="8.8">0</text>
<line x1="46.2" x2="48.7" y1="148.90" y2="148.90" stroke="#000" stroke-width="1.5"/>
<text x="40.8" y="151.80" text-anchor="end" font-family='"Liberation Serif", serif' font-weight="bold" font-size="8.8">-0.005</text>
<line x1="46.2" x2="48.7" y1="173.05" y2="173.05" stroke="#000" stroke-width="1.5"/>
<text x="40.8" y="175.95" text-anchor="end" font-family='"Liberation Serif", serif' font-weight="bold" font-size="8.8">-0.01</text>
<line x1="46.2" x2="48.7" y1="197.20" y2="197.20" stroke="#000" stroke-width="1.5"/>
<text x="40.8" y="200.10" text-anchor="end" font-family='"Liberation Serif", serif' font-weight="bold" font-size="8.8">-0.015</text>
<line x1="46.2" x2="48.7" y1="221.35" y2="221.35" stroke="#000" stroke-width="1.5"/>
<text x="40.8" y="224.25" text-anchor="end" font-family='"Liberation Serif", serif' font-weight="bold" font-size="8.8">-0.02</text>
<line x1="46.2" x2="48.7" y1="245.50" y2="245.50" stroke="#000" stroke-width="1.5"/>
<text x="40.8" y="248.40" text-anchor="end" font-family='"Liberation Serif", serif' font-weight="bold" font-size="8.8">-0.025</text>
<line x1="48.70" x2="48.70" y1="245.5" y2="248" stroke="#000" stroke-width="1.5"/>
<text x="48.70" y="259.0" text-anchor="middle" font-family='"Liberation Serif", serif' font-weight="bold" font-size="8.8">-0.4</text>
<line x1="99.72" x2="99.72" y1="245.5" y2="248" stroke="#000" stroke-width="1.5"/>
<text x="99.72" y="259.0" text-anchor="middle" font-family='"Liberation Serif", serif' font-weight="bold" font-size="8.8">-0.2</text>
<line x1="150.74" x2="150.74" y1="245.5" y2="248" stroke="#000" stroke-width="1.5"/>
<text x="150.74" y="259.0" text-anchor="middle" font-family='"Liberation Serif", serif' font-weight="bold" font-size="8.8">0</text>
<line x1="201.76" x2="201.76" y1="245.5" y2="248" stroke="#000" stroke-width="1.5"/>
<text x="201.76" y="259.0" text-anchor="middle" font-family='"Liberation Serif", serif' font-weight="bold" font-size="8.8">0.2</text>
<line x1="252.78" x2="252.78" y1="245.5" y2="248" stroke="#000" stroke-width="1.5"/>
<text x="252.78" y="259.0" text-anchor="middle" font-family='"Liberation Serif", serif' font-weight="bold" font-size="8.8">0.4</text>
<line x1="303.80" x2="303.80" y1="245.5" y2="248" stroke="#000" stroke-width="1.5"/>
<text x="303.80" y="259.0" text-anchor="middle" font-family='"Liberation Serif", serif' font-weight="bold" font-size="8.8">0.6</text>
<text transform="translate(52.4,16.30) scale(0.963,1)" font-family='"Liberation Serif", serif' font-weight="bold" font-size="13.5">(a)</text>
<text transform="translate(82.6,16.30) scale(0.963,1)" font-family='"Liberation Serif", serif' font-weight="bold" font-size="13.5">20<tspan dx="2.35">mV</tspan><tspan dx="4.2">s</tspan><tspan dy="-5.0" font-size="8.9">-1</tspan></text>
<text transform="translate(52.4,32.30) scale(0.963,1)" font-family='"Liberation Serif", serif' font-weight="bold" font-size="13.5">(b)</text>
<text transform="translate(82.6,32.30) scale(0.963,1)" font-family='"Liberation Serif", serif' font-weight="bold" font-size="13.5">40<tspan dx="2.35">mV</tspan><tspan dx="4.2">s</tspan><tspan dy="-5.0" font-size="8.9">-1</tspan></text>
<text transform="translate(52.4,48.30) scale(0.963,1)" font-family='"Liberation Serif", serif' font-weight="bold" font-size="13.5">(c)</text>
<text transform="translate(82.6,48.30) scale(0.963,1)" font-family='"Liberation Serif", serif' font-weight="bold" font-size="13.5">60<tspan dx="2.35">mV</tspan><tspan dx="4.2">s</tspan><tspan dy="-5.0" font-size="8.9">-1</tspan></text>
<text transform="translate(52.4,64.30) scale(0.963,1)" font-family='"Liberation Serif", serif' font-weight="bold" font-size="13.5">(d)</text>
<text transform="translate(82.6,64.30) scale(0.963,1)" font-family='"Liberation Serif", serif' font-weight="bold" font-size="13.5">80<tspan dx="2.35">mV</tspan><tspan dx="4.2">s</tspan><tspan dy="-5.0" font-size="8.9">-1</tspan></text>
<text transform="translate(52.4,80.30) scale(0.963,1)" font-family='"Liberation Serif", serif' font-weight="bold" font-size="13.5">(e)</text>
<text transform="translate(82.6,80.30) scale(0.963,1)" font-family='"Liberation Serif", serif' font-weight="bold" font-size="13.5">100<tspan dx="2.35">mV</tspan><tspan dx="4.2">s</tspan><tspan dy="-5.0" font-size="8.9">-1</tspan></text>
<text x="278.9" y="20.3" font-family='"Liberation Serif", serif' font-weight="bold" font-size="17.5" fill="#FF0000">(a)</text>
<text x="280" y="46.30" font-family='"Liberation Serif", serif' font-weight="bold" font-size="11.4">(e)</text>
<text x="280" y="60.40" font-family='"Liberation Serif", serif' font-weight="bold" font-size="11.4">(d)</text>
<text x="280" y="74.20" font-family='"Liberation Serif", serif' font-weight="bold" font-size="11.4">(c)</text>
<text x="280" y="88.00" font-family='"Liberation Serif", serif' font-weight="bold" font-size="11.4">(b)</text>
<text x="280" y="102.40" font-family='"Liberation Serif", serif' font-weight="bold" font-size="11.4">(a)</text>
<text x="138.4" y="275.5" font-family='"Liberation Serif", serif' font-weight="bold" font-size="13.3" textLength="64" lengthAdjust="spacingAndGlyphs">Potential (V)</text>
<text transform="translate(9.4,165.4) rotate(-90)" x="0" y="0" font-family='"Liberation Serif", serif' font-weight="bold" font-size="12.2" textLength="37" lengthAdjust="spacingAndGlyphs">Current</text>
<text transform="translate(9.2,118.4) rotate(-90)" x="0" y="0" font-family='"Liberation Serif", serif' font-weight="bold" font-size="12" textLength="40" lengthAdjust="spacingAndGlyphs" xml:space="preserve">(A cm<tspan dy="-4.3" font-size="7.5">-2</tspan><tspan dy="4.3">)</tspan></text>
<rect x="381.0" y="2.1" width="267.8" height="231.6" fill="none" stroke="#2a2a2a" stroke-width="1.9"/>
<line x1="378.2" x2="381.0" y1="2.10" y2="2.10" stroke="#888" stroke-width="0.9"/>
<text x="374.5" y="4.50" text-anchor="end" font-family='"Liberation Sans", sans-serif' font-size="6.8" fill="#111" stroke="#111" stroke-width="0.3">0.025</text>
<line x1="378.2" x2="381.0" y1="27.83" y2="27.83" stroke="#888" stroke-width="0.9"/>
<text x="374.5" y="30.23" text-anchor="end" font-family='"Liberation Sans", sans-serif' font-size="6.8" fill="#111" stroke="#111" stroke-width="0.3">0.02</text>
<line x1="378.2" x2="381.0" y1="53.57" y2="53.57" stroke="#888" stroke-width="0.9"/>
<text x="374.5" y="55.97" text-anchor="end" font-family='"Liberation Sans", sans-serif' font-size="6.8" fill="#111" stroke="#111" stroke-width="0.3">0.015</text>
<line x1="378.2" x2="381.0" y1="79.30" y2="79.30" stroke="#888" stroke-width="0.9"/>
<text x="374.5" y="81.70" text-anchor="end" font-family='"Liberation Sans", sans-serif' font-size="6.8" fill="#111" stroke="#111" stroke-width="0.3">0.01</text>
<line x1="378.2" x2="381.0" y1="105.03" y2="105.03" stroke="#888" stroke-width="0.9"/>
<text x="374.5" y="107.43" text-anchor="end" font-family='"Liberation Sans", sans-serif' font-size="6.8" fill="#111" stroke="#111" stroke-width="0.3">0.005</text>
<line x1="378.2" x2="381.0" y1="130.77" y2="130.77" stroke="#888" stroke-width="0.9"/>
<text x="374.5" y="133.17" text-anchor="end" font-family='"Liberation Sans", sans-serif' font-size="6.8" fill="#111" stroke="#111" stroke-width="0.3">0</text>
<line x1="378.2" x2="381.0" y1="156.50" y2="156.50" stroke="#888" stroke-width="0.9"/>
<text x="374.5" y="158.90" text-anchor="end" font-family='"Liberation Sans", sans-serif' font-size="6.8" fill="#111" stroke="#111" stroke-width="0.3">-0.005</text>
<line x1="378.2" x2="381.0" y1="182.23" y2="182.23" stroke="#888" stroke-width="0.9"/>
<text x="374.5" y="184.63" text-anchor="end" font-family='"Liberation Sans", sans-serif' font-size="6.8" fill="#111" stroke="#111" stroke-width="0.3">-0.01</text>
<line x1="378.2" x2="381.0" y1="207.97" y2="207.97" stroke="#888" stroke-width="0.9"/>
<text x="374.5" y="210.37" text-anchor="end" font-family='"Liberation Sans", sans-serif' font-size="6.8" fill="#111" stroke="#111" stroke-width="0.3">-0.015</text>
<line x1="378.2" x2="381.0" y1="233.70" y2="233.70" stroke="#888" stroke-width="0.9"/>
<text x="374.5" y="236.10" text-anchor="end" font-family='"Liberation Sans", sans-serif' font-size="6.8" fill="#111" stroke="#111" stroke-width="0.3">-0.02</text>
<line x1="381.00" x2="381.00" y1="233.7" y2="236.3" stroke="#888" stroke-width="0.9"/>
<text x="381.00" y="246.0" text-anchor="middle" font-family='"Liberation Sans", sans-serif' font-size="6.8" fill="#111" stroke="#111" stroke-width="0.3">0</text>
<line x1="425.63" x2="425.63" y1="233.7" y2="236.3" stroke="#888" stroke-width="0.9"/>
<text x="425.63" y="246.0" text-anchor="middle" font-family='"Liberation Sans", sans-serif' font-size="6.8" fill="#111" stroke="#111" stroke-width="0.3">20</text>
<line x1="470.27" x2="470.27" y1="233.7" y2="236.3" stroke="#888" stroke-width="0.9"/>
<text x="470.27" y="246.0" text-anchor="middle" font-family='"Liberation Sans", sans-serif' font-size="6.8" fill="#111" stroke="#111" stroke-width="0.3">40</text>
<line x1="514.90" x2="514.90" y1="233.7" y2="236.3" stroke="#888" stroke-width="0.9"/>
<text x="514.90" y="246.0" text-anchor="middle" font-family='"Liberation Sans", sans-serif' font-size="6.8" fill="#111" stroke="#111" stroke-width="0.3">60</text>
<line x1="559.53" x2="559.53" y1="233.7" y2="236.3" stroke="#888" stroke-width="0.9"/>
<text x="559.53" y="246.0" text-anchor="middle" font-family='"Liberation Sans", sans-serif' font-size="6.8" fill="#111" stroke="#111" stroke-width="0.3">80</text>
<line x1="604.17" x2="604.17" y1="233.7" y2="236.3" stroke="#888" stroke-width="0.9"/>
<text x="604.17" y="246.0" text-anchor="middle" font-family='"Liberation Sans", sans-serif' font-size="6.8" fill="#111" stroke="#111" stroke-width="0.3">100</text>
<line x1="648.80" x2="648.80" y1="233.7" y2="236.3" stroke="#888" stroke-width="0.9"/>
<text x="648.80" y="246.0" text-anchor="middle" font-family='"Liberation Sans", sans-serif' font-size="6.8" fill="#111" stroke="#111" stroke-width="0.3">120</text>
<path d="M425.70,74.70 l3.7,3.7 l-3.7,3.7 l-3.7,-3.7 z" fill="#FF0000"/>
<path d="M470.20,61.20 l3.7,3.7 l-3.7,3.7 l-3.7,-3.7 z" fill="#FF0000"/>
<path d="M514.80,49.10 l3.7,3.7 l-3.7,3.7 l-3.7,-3.7 z" fill="#FF0000"/>
<path d="M559.60,38.50 l3.7,3.7 l-3.7,3.7 l-3.7,-3.7 z" fill="#FF0000"/>
<path d="M604.00,25.80 l3.7,3.7 l-3.7,3.7 l-3.7,-3.7 z" fill="#FF0000"/>
<polyline points="425.70,78.40 470.20,64.90 514.80,52.80 559.60,42.20 604.00,29.50" fill="none" stroke="#000" stroke-width="1.45" stroke-linejoin="round"/>
<polyline points="424.90,166.10 469.30,176.30 514.60,185.70 559.00,192.50 603.80,201.40" fill="none" stroke="#000" stroke-width="1.75" stroke-linejoin="round"/>
<rect x="421.80" y="162.90" width="6.2" height="6.4" fill="#FFC000"/>
<rect x="423.70" y="164.80" width="2.4" height="2.6" fill="#C4465A"/>
<rect x="466.20" y="173.10" width="6.2" height="6.4" fill="#FFC000"/>
<rect x="468.10" y="175.00" width="2.4" height="2.6" fill="#C4465A"/>
<rect x="511.50" y="182.50" width="6.2" height="6.4" fill="#FFC000"/>
<rect x="513.40" y="184.40" width="2.4" height="2.6" fill="#C4465A"/>
<rect x="555.90" y="189.30" width="6.2" height="6.4" fill="#FFC000"/>
<rect x="557.80" y="191.20" width="2.4" height="2.6" fill="#C4465A"/>
<rect x="600.70" y="198.20" width="6.2" height="6.4" fill="#FFC000"/>
<rect x="602.60" y="200.10" width="2.4" height="2.6" fill="#C4465A"/>
<text x="383.4" y="27.7" font-family='"Liberation Serif", serif' font-weight="bold" font-size="9.5" textLength="86" lengthAdjust="spacingAndGlyphs">y = 0.0001x + 0.008</text>
<text x="400.6" y="39.6" font-family='"Liberation Serif", serif' font-weight="bold" font-size="9.5" textLength="51" lengthAdjust="spacingAndGlyphs">R² = 0.9982</text>
<text x="367.7" y="195.1" font-family='"Liberation Serif", serif' font-weight="bold" font-size="9.5" textLength="90" lengthAdjust="spacingAndGlyphs">y = -8E-05x - 0.0055</text>
<text x="390" y="208.1" font-family='"Liberation Serif", serif' font-weight="bold" font-size="9.5" textLength="45.7" lengthAdjust="spacingAndGlyphs">R² = 0.996</text>
<text x="520.7" y="25.9" font-family='"Liberation Sans", sans-serif' font-weight="bold" font-size="9.9" fill="#111" stroke="#111" stroke-width="0.3" textLength="88.3" lengthAdjust="spacingAndGlyphs">Anodic peak current</text>
<text x="538.8" y="177.3" font-family='"Liberation Sans", sans-serif' font-weight="bold" font-size="9.9" fill="#111" stroke="#111" stroke-width="0.3" textLength="102" lengthAdjust="spacingAndGlyphs">Cathoodic peak current</text>
<text x="627.5" y="15.7" font-family='"Liberation Serif", serif' font-weight="bold" font-size="16.6" fill="#FF0000">(b)</text>
<text y="275.3" font-family='"Liberation Serif", serif' font-weight="bold" font-size="12.3"><tspan x="447.8" textLength="53.6" lengthAdjust="spacingAndGlyphs">Scan rate (</tspan><tspan x="502.0" textLength="18.4" lengthAdjust="spacingAndGlyphs">mV</tspan><tspan x="523.5">s</tspan><tspan x="528.3" dy="-4.6" font-size="8">-1</tspan><tspan x="534.8" dy="4.6">)</tspan></text>
<text transform="translate(340.9,220.6) rotate(-90)" x="0" y="0" font-family='"Liberation Serif", serif' font-weight="bold" font-size="11.7" textLength="99.7" lengthAdjust="spacingAndGlyphs">Redox peak current</text>
<text transform="translate(340.9,114.0) rotate(-90)" x="0" y="0" font-family='"Liberation Serif", serif' font-weight="bold" font-size="11.7" textLength="40.5" lengthAdjust="spacingAndGlyphs" xml:space="preserve">(A cm<tspan dy="-4.3" font-size="7.6">-2</tspan><tspan dy="4.3">)</tspan></text>
</svg>
</body></html>
